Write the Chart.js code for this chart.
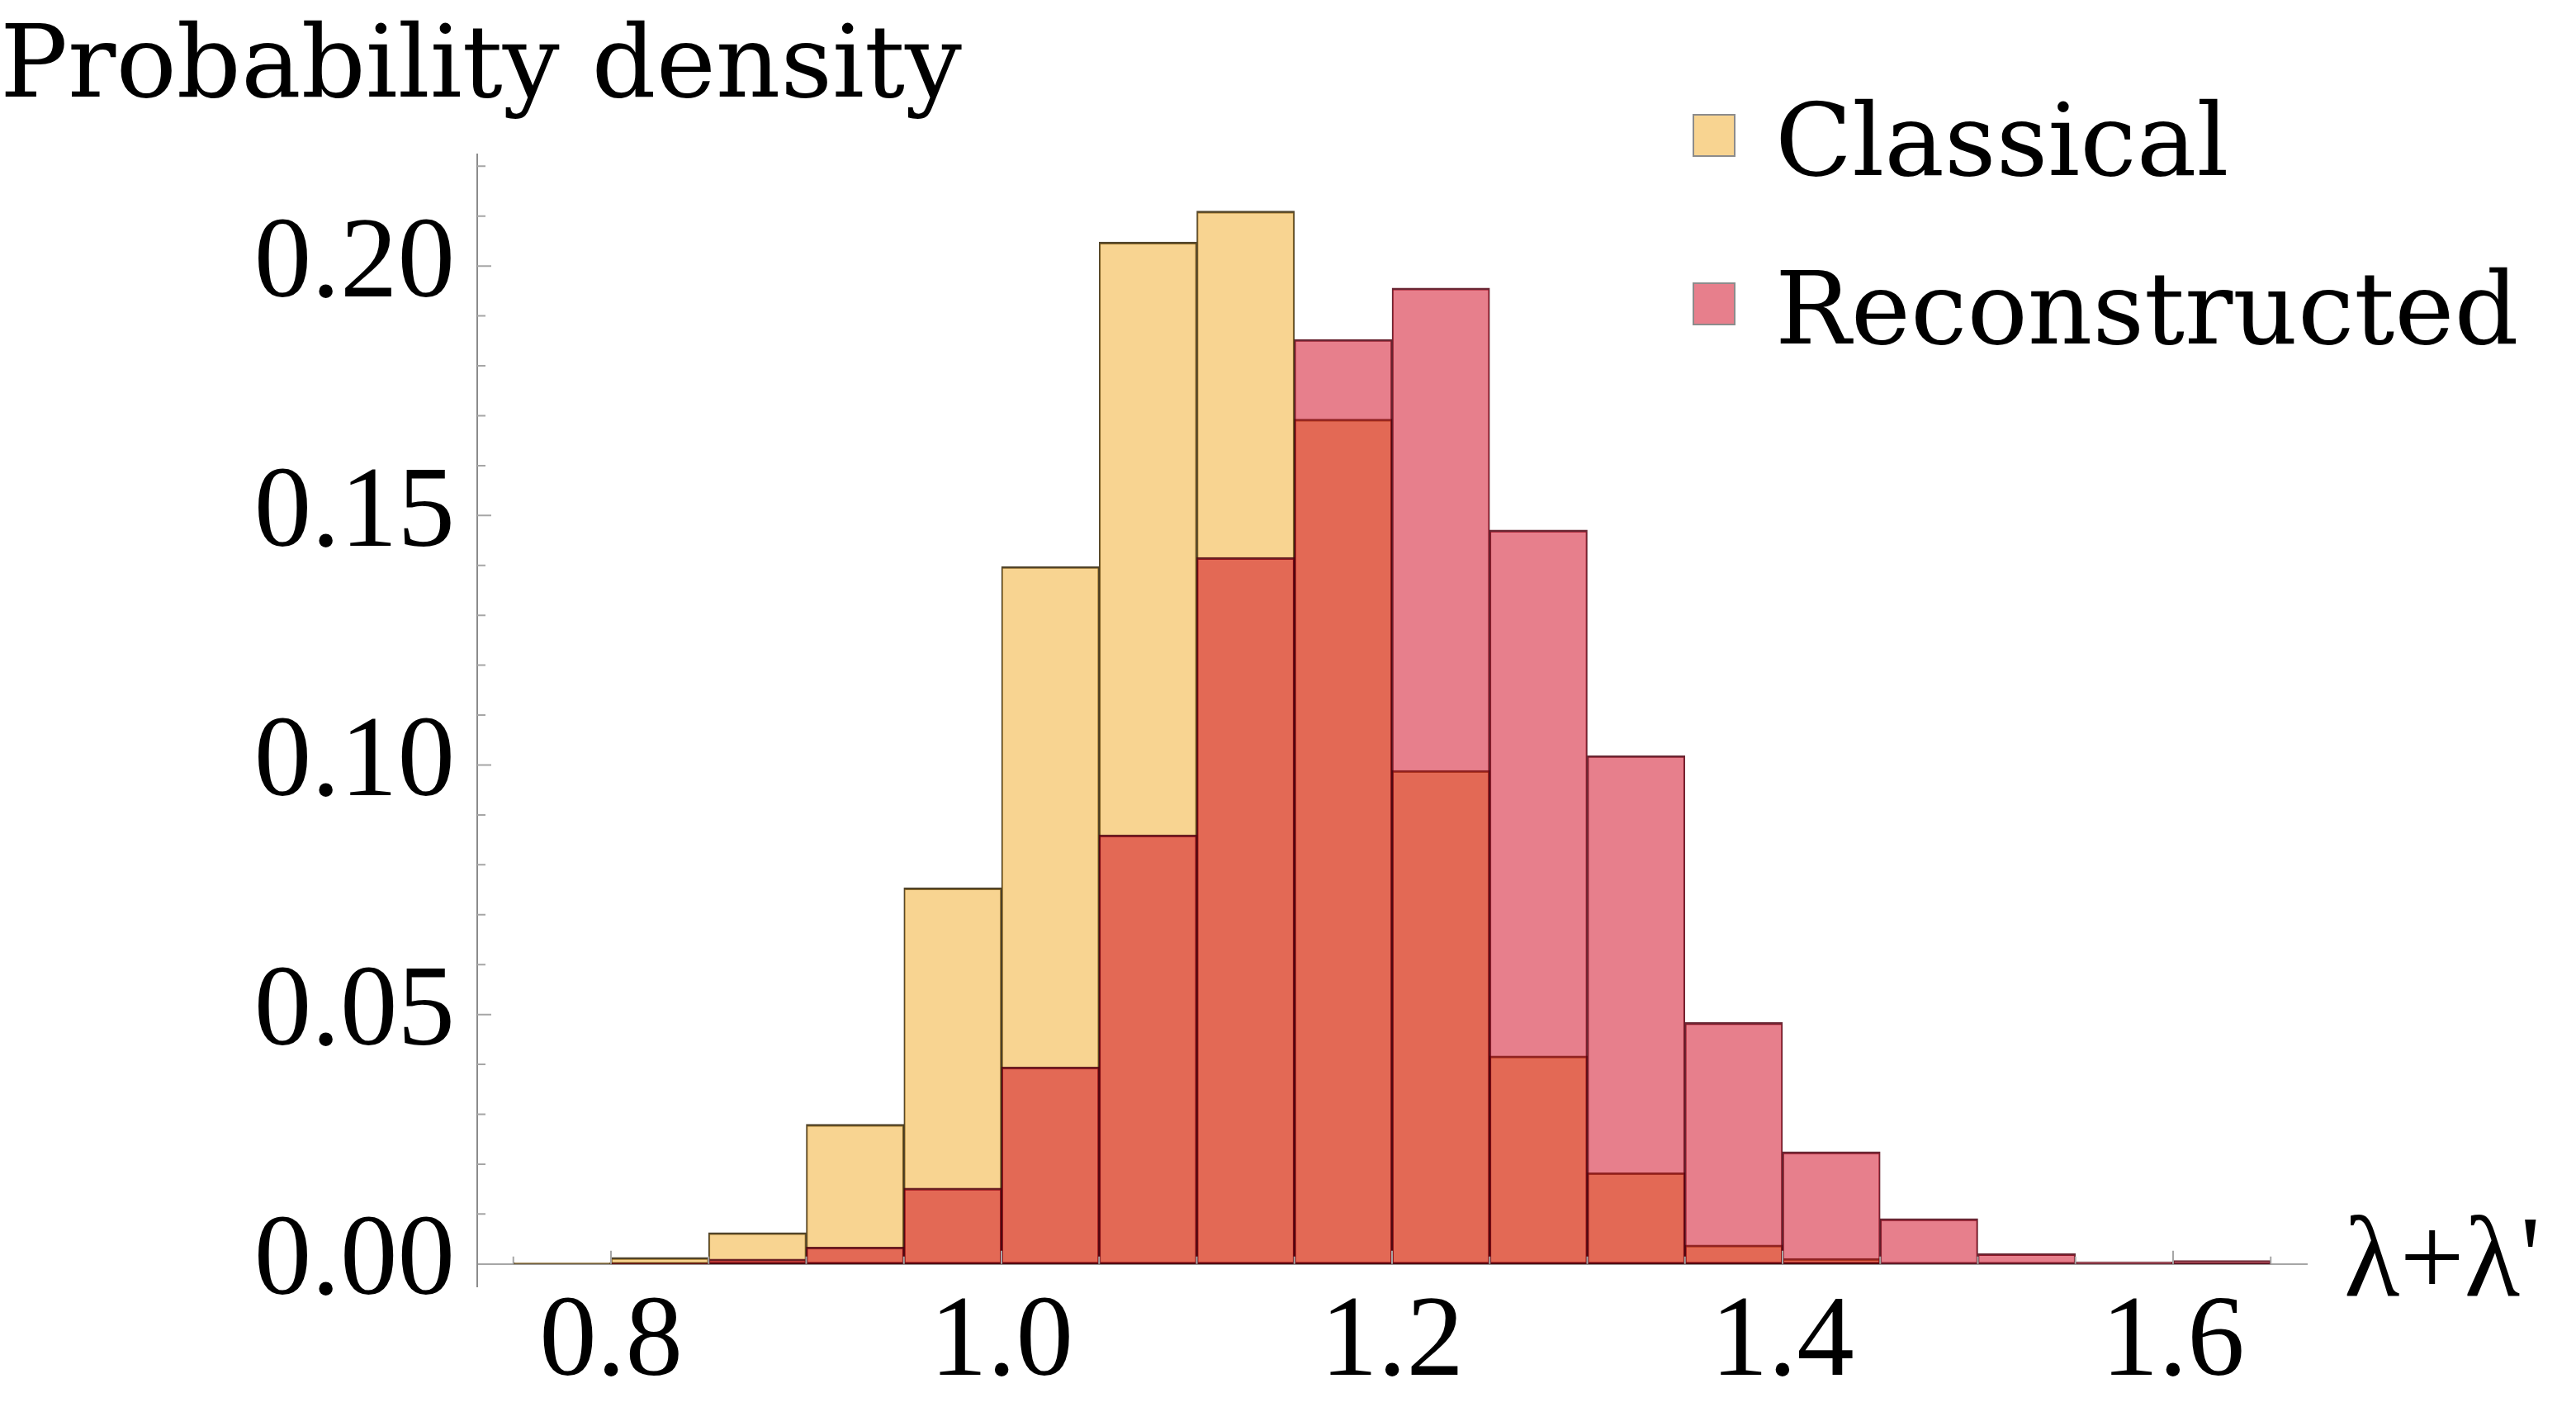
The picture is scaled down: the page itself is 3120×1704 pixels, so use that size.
<!DOCTYPE html>
<html lang="en">
<head>
<meta charset="UTF-8">
<title>Probability density histogram</title>
<script src="https://cdn.jsdelivr.net/npm/chart.js@4"></script>
<style>
  html, body { margin: 0; padding: 0; background: #ffffff; }
  #wrap { width: 3120px; height: 1704px; }
</style>
</head>
<body>
<div id="wrap"><canvas id="hist" width="3120" height="1704"></canvas></div>
<script>
// histogram bins, width 0.05 from 0.75 to 1.65 (centres)
const binCenters = [0.775, 0.825, 0.875, 0.925, 0.975, 1.025, 1.075, 1.125, 1.175,
                    1.225, 1.275, 1.325, 1.375, 1.425, 1.475, 1.525, 1.575, 1.625];
const classical = [0.0003, 0.0013, 0.0063, 0.0280, 0.0754, 0.1398, 0.2048, 0.2110, 0.1693,
                   0.0989, 0.0417, 0.0183, 0.0038, 0.0011, 0, 0, 0, 0];
const reconstructed = [0, 0.0002, 0.0010, 0.0034, 0.0152, 0.0395, 0.0860, 0.1416, 0.1853,
                       0.1956, 0.1471, 0.1019, 0.0484, 0.0225, 0.0091, 0.0021, 0.0004, 0.0007];
const seriesNames = ['Classical', 'Reconstructed'];
const xTicks = [0.8, 1.0, 1.2, 1.4, 1.6];
const yTicks = [0, 0.05, 0.10, 0.15, 0.20];
const xMinorTicks = [0.75, 0.85, 0.9, 0.95, 1.05, 1.1, 1.15, 1.25, 1.3, 1.35, 1.45, 1.5, 1.55, 1.65];
const yMinorTicks = [0.01, 0.02, 0.03, 0.04, 0.06, 0.07, 0.08, 0.09, 0.11, 0.12, 0.13, 0.14,
                     0.16, 0.17, 0.18, 0.19, 0.21, 0.22];

const wordFont = '"DejaVu Serif", serif';
const numFont = '"Liberation Serif", serif';

// Mathematica-like inward tick marks on both axes
const axisTicks = {
  id: 'axisTicks',
  afterDatasetsDraw(chart) {
    const { ctx, scales: { x, y } } = chart;
    const y0 = y.getPixelForValue(0);
    ctx.save();
    ctx.strokeStyle = '#a6a6a6';
    ctx.lineWidth = 2;
    ctx.beginPath();
    yTicks.slice(1).forEach(v => {
      const py = y.getPixelForValue(v);
      ctx.moveTo(x.left, py); ctx.lineTo(x.left + 17, py);
    });
    yMinorTicks.forEach(v => {
      const py = y.getPixelForValue(v);
      ctx.moveTo(x.left, py); ctx.lineTo(x.left + 10, py);
    });
    xTicks.forEach(v => {
      const px = x.getPixelForValue(v);
      ctx.moveTo(px, y0); ctx.lineTo(px, y0 - 16);
    });
    xMinorTicks.forEach(v => {
      const px = x.getPixelForValue(v);
      ctx.moveTo(px, y0); ctx.lineTo(px, y0 - 9);
    });
    ctx.stroke();

    // axis label at the right end of the horizontal axis
    ctx.fillStyle = '#000';
    ctx.font = '139px ' + numFont;
    ctx.textAlign = 'left';
    ctx.textBaseline = 'alphabetic';
    ctx.fillText("\u03BB+\u03BB'", x.right + 45, y0 + 38);
    ctx.restore();
  }
};

// legend stacked at the top right, overlapping the plot region
const cornerLegend = {
  id: 'cornerLegend',
  afterDraw(chart) {
    const ctx = chart.ctx;
    ctx.save();
    ctx.font = '122px ' + wordFont;
    ctx.textAlign = 'left';
    ctx.textBaseline = 'alphabetic';
    chart.data.datasets.forEach((ds, i) => {
      const top = 138 + i * 204;
      ctx.fillStyle = '#ffffff';
      ctx.fillRect(2050, top, 52, 52);
      ctx.fillStyle = ds.backgroundColor;
      ctx.fillRect(2050, top, 52, 52);
      ctx.strokeStyle = '#8c8c8c';
      ctx.lineWidth = 2;
      ctx.strokeRect(2051, top + 1, 50, 50);
      ctx.fillStyle = '#000';
      ctx.fillText(ds.label, 2150, top + 74);
    });
    ctx.restore();
  }
};

const barStyle = {
  barPercentage: 1,
  categoryPercentage: 1,
  grouped: false,
  borderSkipped: false,
  borderWidth: { top: 2.5, bottom: 2, left: 1.5, right: 1.5 }
};

new Chart(document.getElementById('hist'), {
  type: 'bar',
  data: {
    datasets: [
      Object.assign({
        label: seriesNames[0],
        data: binCenters.map((c, i) => ({ x: c, y: classical[i] })),
        backgroundColor: 'rgba(241,169,35,0.5)',
        borderColor: 'rgba(50,35,5,0.85)',
        order: 1
      }, barStyle),
      Object.assign({
        label: seriesNames[1],
        data: binCenters.map((c, i) => ({ x: c, y: reconstructed[i] })),
        backgroundColor: 'rgba(207,0,25,0.5)',
        borderColor: 'rgba(80,0,15,0.85)',
        order: 0
      }, barStyle)
    ]
  },
  options: {
    responsive: false,
    animation: false,
    devicePixelRatio: 1,
    layout: { padding: { left: 0, top: 0, right: 326, bottom: 146 } },
    scales: {
      x: {
        type: 'linear',
        position: { y: 0 },
        offset: false,
        min: 0.7315,
        max: 1.6685,
        afterBuildTicks: s => { s.ticks = xTicks.map(v => ({ value: v })); },
        afterFit: s => { s.height = 0; },
        grid: { display: false, drawTicks: false, offset: false },
        border: { display: true, color: '#a6a6a6', width: 2 },
        ticks: {
          padding: 14,
          color: '#000',
          maxRotation: 0,
          font: { family: numFont, size: 139 },
          callback: v => v.toFixed(1)
        }
      },
      y: {
        position: 'left',
        min: -0.0045,
        max: 0.2223,
        afterBuildTicks: s => { s.ticks = yTicks.map(v => ({ value: v })); },
        afterFit: s => { s.width = 578; },
        grid: { display: false, drawTicks: false },
        border: { display: true, color: '#8c8c8c', width: 2 },
        ticks: {
          padding: 27,
          color: '#000',
          font: { family: numFont, size: 139 },
          callback: v => v.toFixed(2)
        }
      }
    },
    plugins: {
      legend: { display: false },
      tooltip: { enabled: false },
      title: {
        display: true,
        text: 'Probability density',
        align: 'start',
        color: '#000',
        font: { family: wordFont, size: 122, weight: 'normal', lineHeight: 1.2 },
        padding: { top: 12, bottom: 29 }
      }
    }
  },
  plugins: [axisTicks, cornerLegend]
});
</script>
</body>
</html>
